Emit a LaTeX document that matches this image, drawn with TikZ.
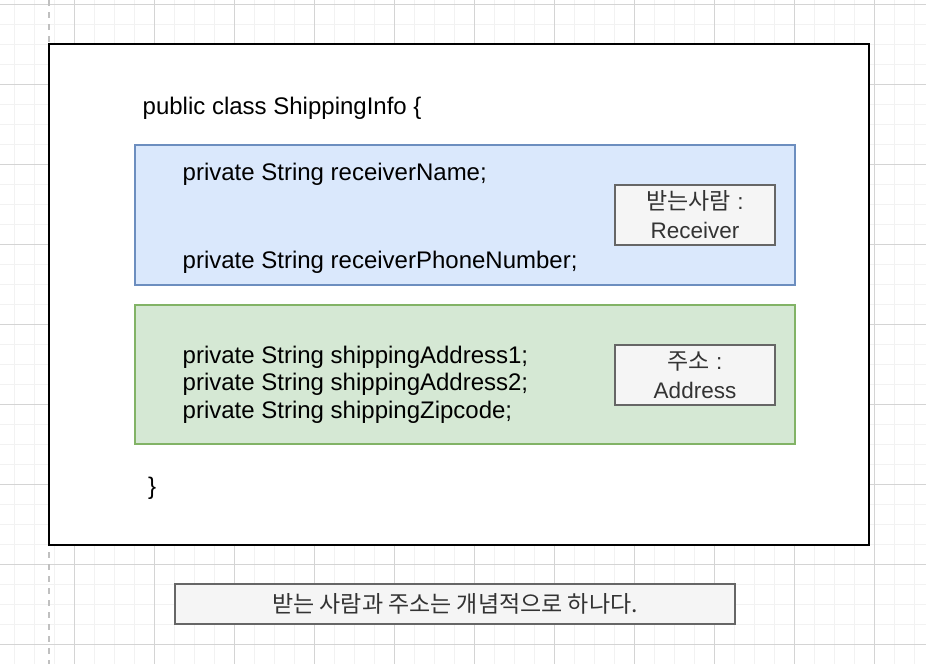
\documentclass[tikz,border=0pt]{standalone}
\usepackage{fontspec}
\setmainfont{Liberation Sans}
\newfontfamily\krfont{Noto Sans CJK KR}
\newcommand{\ko}[1]{{\krfont\fontsize{23}{27}\selectfont #1}}
\definecolor{gridminor}{HTML}{F2F2F2}
\definecolor{gridmajor}{HTML}{D4D4D4}
\definecolor{pagebreak}{HTML}{C0C0C0}
\definecolor{recvfill}{HTML}{DAE8FC}
\definecolor{recvline}{HTML}{6C8EBF}
\definecolor{addrfill}{HTML}{D5E8D4}
\definecolor{addrline}{HTML}{82B366}
\definecolor{tagfill}{HTML}{F5F5F5}
\definecolor{tagline}{HTML}{666666}
\definecolor{tagtext}{HTML}{333333}
\begin{document}
\begin{tikzpicture}[x=1pt,y=-1pt,
	code/.style={anchor=base west,inner sep=0pt,font=\fontsize{24}{28}\selectfont},
	tag/.style={draw=tagline,fill=tagfill,line width=1.5pt,text=tagtext,align=center,inner sep=0pt,font=\fontsize{22.5}{29}\selectfont}]
	\useasboundingbox (0,0) rectangle (926,664);
	
	% grid
	\foreach \gx in {14,34,...,914} \draw[gridminor,line width=1pt] (\gx,0) -- (\gx,664);
	\foreach \gy in {4,24,...,644} \draw[gridminor,line width=1pt] (0,\gy) -- (926,\gy);
	\foreach \gx in {74,154,...,874} \draw[gridmajor,line width=1pt] (\gx,0) -- (\gx,664);
	\foreach \gy in {4,84,...,644} \draw[gridmajor,line width=1pt] (0,\gy) -- (926,\gy);
	\draw[pagebreak,line width=2pt,dash pattern=on 6pt off 6pt] (49,0) -- (49,664);
	
	\draw[fill=white,line width=2pt] (49,44) rectangle (869,545);
	\draw[fill=recvfill,draw=recvline,line width=1.5pt] (135,145) rectangle (795,285);
	\draw[fill=addrfill,draw=addrline,line width=1.5pt] (135,305) rectangle (795,444);
	
	\node[code] (head) at (142.5,114.5) {public class ShippingInfo \{};
	\node[code] (rname) at (182.5,180.5) {private String receiverName;};
	\node[code] (rphone) at (182.5,268) {private String receiverPhoneNumber;};
	\node[code] (addr1) at (182.5,363) {private String shippingAddress1;};
	\node[code] (addr2) at (182.5,390.5) {private String shippingAddress2;};
	\node[code] (zip) at (182.5,418) {private String shippingZipcode;};
	\node[code] (tail) at (148,494.5) {\}};
	
	\node[tag,minimum width=160pt,minimum height=60pt] (recv) at (695,215) {\ko{받는사람} :\\Receiver};
	\node[tag,minimum width=160pt,minimum height=60pt] (addr) at (695,375) {\ko{주소} :\\Address};
	
	\node[tag,minimum width=560pt,minimum height=40pt] (note) at (455,604) {\ko{받는 사람과 주소는 개념적으로 하나다.}};
\end{tikzpicture}
\end{document}
